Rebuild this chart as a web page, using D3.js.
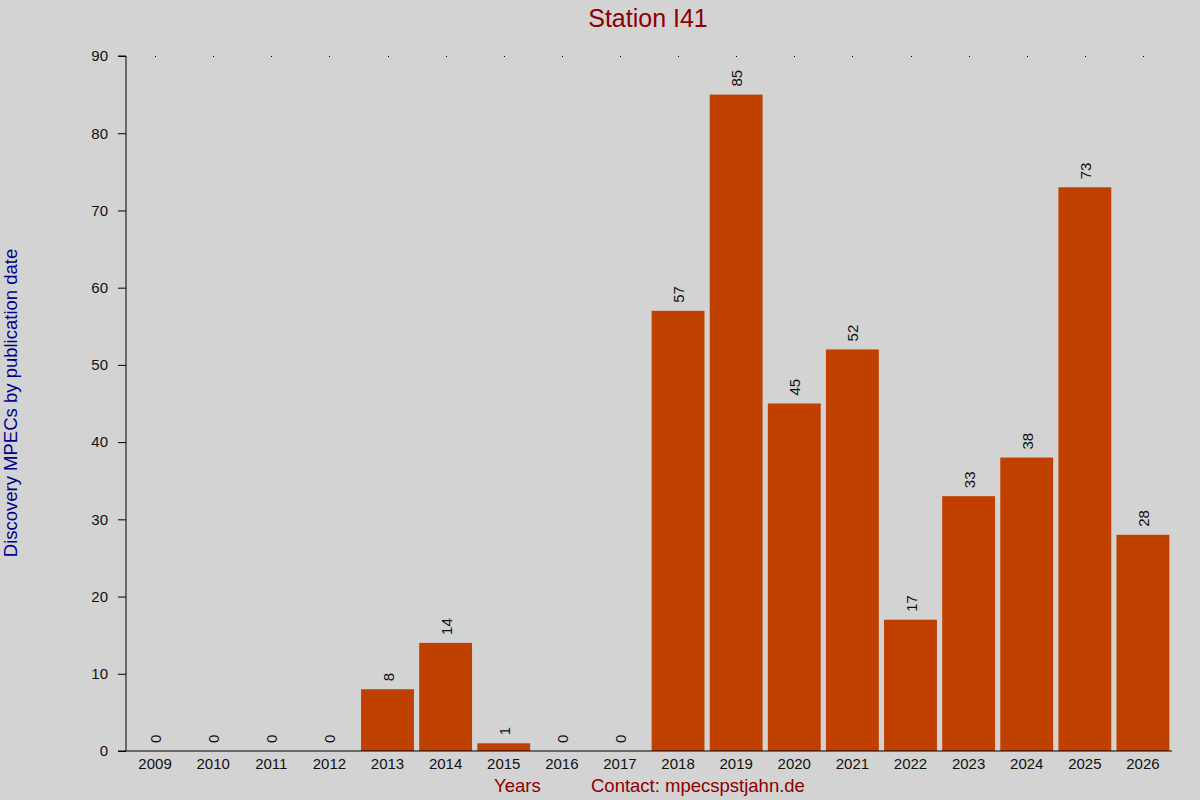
<!DOCTYPE html>
<html>
<head>
<meta charset="utf-8">
<script src="https://cdn.jsdelivr.net/npm/d3@7"></script>
<style>
html,body{margin:0;padding:0;background:#d3d3d3;}
svg{display:block;font-family:"Liberation Sans",Arial,sans-serif;}
</style>
</head>
<body>
<svg id="chart" width="1200" height="800"></svg>
<script>
const years = ["2009","2010","2011","2012","2013","2014","2015","2016","2017","2018","2019","2020","2021","2022","2023","2024","2025","2026"];
const counts = [0,0,0,0,8,14,1,0,0,57,85,45,52,17,33,38,73,28];
const yTicks = [0,10,20,30,40,50,60,70,80,90];
const titleText = "Station I41";
const yLabel = "Discovery MPECs by publication date";
const xLabel = "Years";
const contact = "Contact: mpecspstjahn.de";

const svg = d3.select("#chart");
const W = 1200, H = 800;
const m = {left:126, right:28, top:56, bottom:49};
svg.append("rect").attr("width",W).attr("height",H).attr("fill","#d3d3d3");

const x = d3.scaleBand().domain(years).range([m.left, W-m.right]).paddingInner(0.09).paddingOuter(0.045);
const y = d3.scaleLinear().domain([0,90]).range([H-m.bottom, m.top]);

// bars
svg.append("g").selectAll("rect").data(years).join("rect")
  .attr("x", d=>x(d))
  .attr("width", x.bandwidth())
  .attr("y", (d,i)=>y(counts[i]))
  .attr("height", (d,i)=>y(0)-y(counts[i]))
  .attr("fill","#c04000");

// value labels
svg.append("g").selectAll("text").data(years).join("text")
  .attr("transform",(d,i)=>`translate(${x(d)+x.bandwidth()/2+6},${y(counts[i])-8}) rotate(-90)`)
  .attr("font-size",15).attr("fill","#111")
  .text((d,i)=>counts[i]);

// y axis
const yAxis = d3.axisLeft(y).tickValues(yTicks).tickSize(8).tickPadding(10);
const gy = svg.append("g").attr("transform",`translate(${m.left},0)`).call(yAxis);
gy.select(".domain").attr("stroke","#000").attr("d",`M0,${y(90)}V${y(0)}M-8,${y(90)}H0M-8,${y(0)}H0`);
gy.selectAll(".tick line").attr("stroke","#000");
gy.selectAll(".tick text").attr("font-size",15).attr("fill","#111").attr("font-family","Liberation Sans, Arial, sans-serif");

// x axis
const xAxis = d3.axisBottom(x).tickSize(0).tickPadding(7);
const gx = svg.append("g").attr("transform",`translate(0,${y(0)})`).call(xAxis);
gx.select(".domain").attr("stroke","#000").attr("d",`M${m.left},0H${W-m.right}`);
gx.selectAll(".tick text").attr("font-size",15).attr("fill","#111").attr("font-family","Liberation Sans, Arial, sans-serif");

// top tick dots
svg.append("g").selectAll("rect").data(years).join("rect")
  .attr("x", d=>Math.round(x(d)+x.bandwidth()/2))
  .attr("y", y(90))
  .attr("width",1).attr("height",1).attr("fill","#000");

// title
svg.append("text").attr("x",648).attr("y",27).attr("text-anchor","middle")
  .attr("font-size",25).attr("fill","#8b0000").text(titleText);

// y label
svg.append("text").attr("transform",`translate(17,403) rotate(-90)`).attr("text-anchor","middle")
  .attr("font-size",18.5).attr("fill","#00008b").text(yLabel);

// x labels
svg.append("text").attr("x",494).attr("y",792).attr("font-size",18.5).attr("fill","#8b0000").text(xLabel);
svg.append("text").attr("x",591).attr("y",792).attr("font-size",18.5).attr("fill","#8b0000").text(contact);
</script>
</body>
</html>
